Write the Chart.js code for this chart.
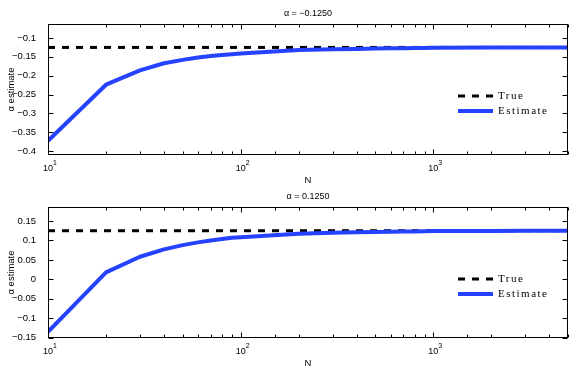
<!DOCTYPE html>
<html>
<head>
<meta charset="utf-8">
<script src="https://cdn.jsdelivr.net/npm/chart.js@4"></script>
<style>
  body { margin: 0; background: #fff; }
  canvas { display: block; }
</style>
</head>
<body>
<canvas id="topChart" width="573" height="186"></canvas>
<canvas id="bottomChart" width="573" height="186"></canvas>
<script>
// sample sizes N and the estimates
const nValues = [10, 20, 30, 40, 50, 60, 70, 80, 90, 100,
                 200, 300, 400, 500, 600, 700, 800, 900, 1000,
                 2000, 3000, 4000, 5000];
const estTop = [-0.373, -0.224, -0.186, -0.167, -0.158, -0.152, -0.148, -0.145, -0.143, -0.141,
                -0.132, -0.130, -0.129, -0.128, -0.1275, -0.127, -0.1267, -0.1264, -0.126,
                -0.1255, -0.1253, -0.1252, -0.1251];
const estBottom = [-0.135, 0.018, 0.058, 0.077, 0.088, 0.095, 0.100, 0.104, 0.107, 0.108,
                   0.117, 0.120, 0.121, 0.122, 0.1225, 0.123, 0.1233, 0.1236, 0.124,
                   0.1245, 0.1247, 0.1248, 0.1249];
const trueN = [10, 5000];
const trueTop = [-0.125, -0.125];
const trueBottom = [0.125, 0.125];

const titles = ['α = −0.1250', 'α = 0.1250'];
const yTicksTop = [-0.4, -0.35, -0.3, -0.25, -0.2, -0.15, -0.1];
const yTicksBottom = [-0.15, -0.1, -0.05, 0, 0.05, 0.1, 0.15];
const seriesLabels = ['True', 'Estimate'];
const xLabel = 'N';
const yLabel = 'α estimate';

const SANS = '"Liberation Sans", Arial, sans-serif';
const SERIF = '"Liberation Serif", "Times New Roman", serif';

function fmt(v) {
  return (v < 0 ? '−' : '') + String(Math.abs(v));
}

function isDecade(v) {
  const l = Math.log10(v);
  return Math.abs(l - Math.round(l)) < 1e-9;
}

// MATLAB-looking frame: box, inward ticks, 10^k labels, titles, legend
const matlabAxes = {
  id: 'matlabAxes',
  afterDraw(chart, args, opts) {
    const { ctx, chartArea: a } = chart;
    const xs = chart.scales.x, ys = chart.scales.y;
    const L = Math.round(a.left) + 0.5, R = Math.round(a.right) - 0.5;
    const T = Math.round(a.top) + 0.5, B = Math.round(a.bottom) - 0.5;
    ctx.save();
    ctx.strokeStyle = '#000';
    ctx.lineWidth = 1;
    ctx.beginPath();
    xs.ticks.forEach(t => {
      const px = Math.round(xs.getPixelForValue(t.value)) + 0.5;
      const len = isDecade(t.value) ? 5 : 3;
      ctx.moveTo(px, B); ctx.lineTo(px, B - len);
      ctx.moveTo(px, T); ctx.lineTo(px, T + len);
    });
    ys.ticks.forEach(t => {
      const py = Math.round(ys.getPixelForValue(t.value)) + 0.5;
      ctx.moveTo(L, py); ctx.lineTo(L + 5, py);
      ctx.moveTo(R, py); ctx.lineTo(R - 5, py);
    });
    ctx.stroke();
    ctx.strokeRect(L, T, R - L, B - T);

    // x tick labels 10^k
    ctx.fillStyle = '#000';
    ctx.textBaseline = 'middle';
    xs.ticks.forEach(t => {
      if (!isDecade(t.value)) return;
      const px = xs.getPixelForValue(t.value);
      ctx.font = '9px ' + SANS;
      ctx.textAlign = 'center';
      ctx.fillText('10', px, a.bottom + 14);
      ctx.font = '7px ' + SANS;
      ctx.textAlign = 'left';
      ctx.fillText(String(Math.round(Math.log10(t.value))), px + 5, a.bottom + 8);
    });

    const cx = (a.left + a.right) / 2;
    ctx.textAlign = 'center';
    ctx.font = '9px ' + SANS;
    ctx.fillText(opts.title, cx, a.top - 10);
    ctx.font = '9.5px ' + SANS;
    ctx.fillText(xLabel, cx, a.bottom + 25);
    ctx.save();
    ctx.translate(11, (a.top + a.bottom) / 2);
    ctx.rotate(-Math.PI / 2);
    ctx.fillText(yLabel, 0, 0);
    ctx.restore();

    // legend inside the axes
    ctx.font = '11px ' + SERIF;
    ctx.textAlign = 'left';
    if ('letterSpacing' in ctx) ctx.letterSpacing = '1.5px';
    seriesLabels.forEach((lab, i) => {
      const ds = chart.data.datasets.find(d => d.label === lab);
      const y = a.top + 72 + i * 15;
      ctx.beginPath();
      ctx.strokeStyle = ds.borderColor;
      ctx.lineWidth = ds.borderWidth;
      ctx.setLineDash(ds.borderDash || []);
      ctx.moveTo(458, y);
      ctx.lineTo(493, y);
      ctx.stroke();
      ctx.setLineDash([]);
      ctx.fillText(lab, 498, y + 0.5);
    });
    ctx.restore();
  }
};

function makeChart(id, est, trueVals, yMin, yMax, yTicks, title, padTop, xAxisH) {
  return new Chart(document.getElementById(id), {
    type: 'line',
    data: {
      datasets: [
        {
          label: seriesLabels[0],
          data: trueN.map((n, i) => ({ x: n, y: trueVals[i] })),
          borderColor: '#000',
          borderWidth: 3,
          borderDash: [7, 7],
          pointRadius: 0,
          order: 1
        },
        {
          label: seriesLabels[1],
          data: nValues.map((n, i) => ({ x: n, y: est[i] })),
          borderColor: '#2442ff',
          borderWidth: 4,
          pointRadius: 0,
          tension: 0,
          borderJoinStyle: 'round',
          order: 0
        }
      ]
    },
    options: {
      responsive: false,
      animation: false,
      devicePixelRatio: 1,
      layout: { padding: { top: padTop, right: 5, left: 0, bottom: 0 } },
      plugins: {
        legend: { display: false },
        tooltip: { enabled: false },
        matlabAxes: { title: title }
      },
      scales: {
        x: {
          type: 'logarithmic',
          min: 10,
          max: 5000,
          grid: { display: false },
          border: { display: false },
          ticks: { display: false },
          afterFit: s => { s.height = xAxisH; }
        },
        y: {
          min: yMin,
          max: yMax,
          grid: { display: false },
          border: { display: false },
          afterBuildTicks: s => { s.ticks = yTicks.map(v => ({ value: v })); },
          ticks: {
            callback: v => fmt(v),
            color: '#000',
            padding: 4,
            font: { family: SANS, size: 9.5 }
          },
          afterFit: s => { s.width = 48; }
        }
      }
    },
    plugins: [matlabAxes]
  });
}

makeChart('topChart', estTop, trueTop, -0.4106, -0.0628, yTicksTop, titles[0], 24, 31);
makeChart('bottomChart', estBottom, trueBottom, -0.1508, 0.186, yTicksBottom, titles[1], 21, 34);
</script>
</body>
</html>
